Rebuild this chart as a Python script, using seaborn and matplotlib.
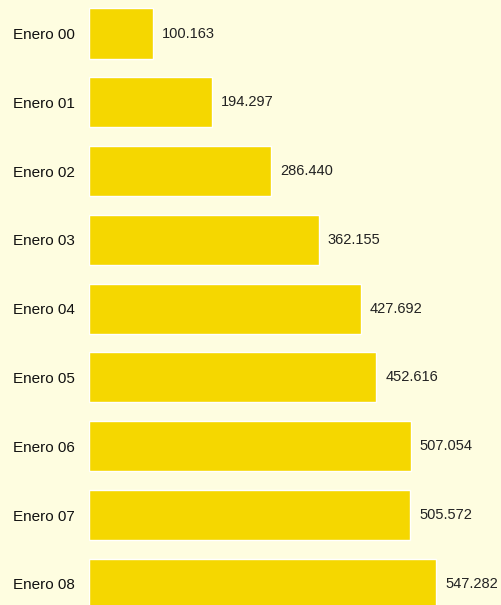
import pandas as pd
import matplotlib.pyplot as plt
import seaborn as sns

meses = ['Enero 00', 'Enero 01', 'Enero 02', 'Enero 03', 'Enero 04',
         'Enero 05', 'Enero 06', 'Enero 07', 'Enero 08']
valores = [100.163, 194.297, 286.440, 362.155, 427.692,
           452.616, 507.054, 505.572, 547.282]

fondo = '#FEFDE0'
amarillo = '#F5D700'

sns.set_theme(style='white')
plt.rcParams['font.family'] = ['Liberation Sans', 'DejaVu Sans']

df = pd.DataFrame({'mes': meses, 'valor': valores})

fig = plt.figure(figsize=(5.01, 6.05), dpi=100, facecolor=fondo)
ax = fig.add_axes([89 / 501, 0, 1 - 89 / 501, 1])
ax.set_facecolor(fondo)

sns.barplot(data=df, x='valor', y='mes', orient='h', color=amarillo,
            saturation=1, width=0.727, ax=ax)

# etiquetas con los valores al final de cada barra
ax.bar_label(ax.containers[0], labels=[f'{v:.3f}' for v in valores],
             padding=6.5, fontsize=10.5, color='#222222')

ax.set_xlim(0, 649)
ax.set_ylim(8.307, -0.487)
ax.set_xlabel('')
ax.set_ylabel('')
ax.set_xticks([])
ax.tick_params(axis='y', length=0, pad=32.4, labelsize=11, labelcolor='#111111')
for lbl in ax.get_yticklabels():
    lbl.set_horizontalalignment('center')
sns.despine(ax=ax, left=True, bottom=True)

fig.savefig('out.png', dpi=100, facecolor=fondo)
